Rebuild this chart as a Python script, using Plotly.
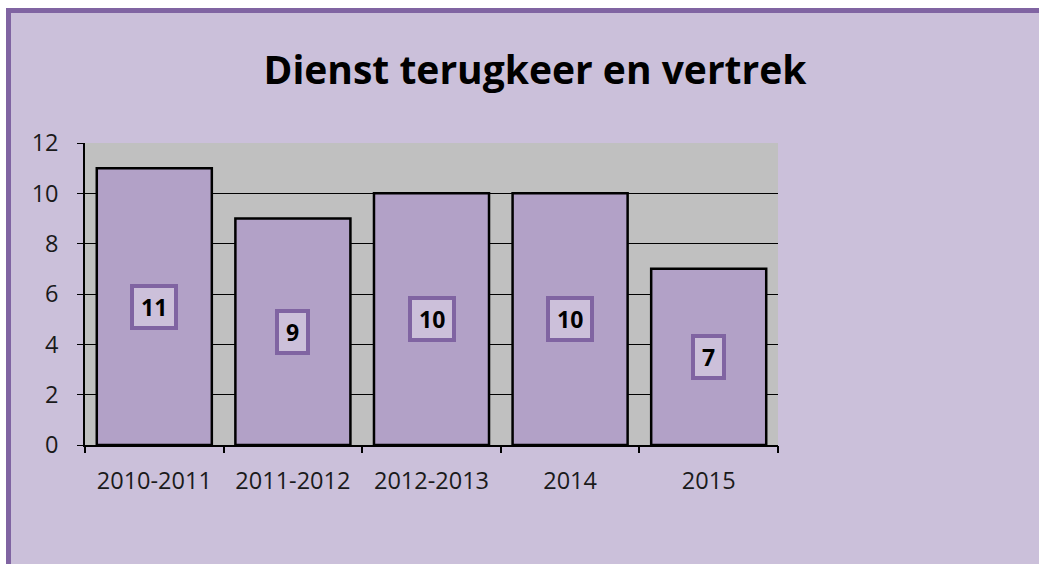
import plotly.graph_objects as go

categories = ["2010-2011", "2011-2012", "2012-2013", "2014", "2015"]
values = [11, 9, 10, 10, 7]
y_ticks = [0, 2, 4, 6, 8, 10, 12]

W, H = 1039, 564
L, R, T, B = 85, 261, 143, 119
pw, ph = W - L - R, H - T - B

def px_x(p):
    return (p - L) / pw

def px_y(p):
    return (H - B - p) / ph

fig = go.Figure()
fig.add_trace(go.Bar(
    x=list(range(len(categories))), y=values,
    marker=dict(color="#B2A1C7", line=dict(color="#000000", width=2.5)),
    hovertext=categories, hoverinfo="text+y",
))

for i, v in enumerate(values):
    fig.add_annotation(
        x=i, y=v / 2, xref="x", yref="y", text="<b>%d</b>" % v,
        showarrow=False, font=dict(family="Open Sans", size=23, color="#000000"),
        bgcolor="#CCC0DA", bordercolor="#8064A2", borderwidth=4, borderpad=7,
        height=24,
    )

# outer frame: white margin strips and purple border (left and top)
fig.add_shape(type="rect", xref="paper", yref="paper",
              x0=px_x(0), x1=px_x(W), y0=px_y(8), y1=px_y(0),
              fillcolor="#FFFFFF", line=dict(width=0))
fig.add_shape(type="rect", xref="paper", yref="paper",
              x0=px_x(0), x1=px_x(6), y0=px_y(H), y1=px_y(0),
              fillcolor="#FFFFFF", line=dict(width=0))
fig.add_shape(type="line", xref="paper", yref="paper",
              x0=px_x(8.5), x1=px_x(8.5), y0=px_y(H), y1=px_y(8),
              line=dict(color="#8064A2", width=5))
fig.add_shape(type="line", xref="paper", yref="paper",
              x0=px_x(6), x1=px_x(W), y0=px_y(10.5), y1=px_y(10.5),
              line=dict(color="#8064A2", width=5))

fig.update_layout(
    width=W, height=H,
    margin=dict(l=L, r=R, t=T, b=B, pad=0),
    paper_bgcolor="#CBC0DA",
    plot_bgcolor="#C0C0C0",
    bargap=0.17,
    showlegend=False,
    title=dict(text="<b>Dienst terugkeer en vertrek</b>", x=535 / W, xanchor="center",
               y=1 - 70 / H, yanchor="middle",
               font=dict(family="Open Sans", size=39, color="#000000")),
    font=dict(family="Open Sans", size=23, color="#1A1A1A"),
)
fig.update_xaxes(
    type="linear", range=[-0.5, len(categories) - 0.5],
    tickvals=list(range(len(categories))), ticktext=categories,
    showline=True, linecolor="#000000", linewidth=1.5,
    ticks="", showgrid=False, tickfont=dict(size=23.5), tickangle=0,
    ticklabelstandoff=14,
)
# tick marks at category boundaries via a secondary overlaying axis
fig.update_layout(xaxis2=dict(
    overlaying="x", anchor="y", side="bottom", range=[-0.5, len(categories) - 0.5],
    tickvals=[i - 0.5 for i in range(len(categories) + 1)], ticktext=[""] * (len(categories) + 1),
    ticks="outside", ticklen=7, tickcolor="#000000", tickwidth=1.5,
    showgrid=False, showline=False, zeroline=False,
))
fig.add_trace(go.Scatter(x=[None], y=[None], xaxis="x2", yaxis="y", showlegend=False,
                         hoverinfo="skip"))
fig.update_yaxes(
    range=[0, 12], tickvals=y_ticks, showline=True, linecolor="#000000", linewidth=1.5,
    ticks="outside", ticklen=6, tickcolor="#000000",
    showgrid=True, gridcolor="#000000", gridwidth=1, zeroline=False,
    tickfont=dict(size=23.5), ticklabelstandoff=14,
)

fig.write_html("out.html",
               post_script="document.body.style.margin='0px';document.body.style.overflow='hidden';",
               config={"displayModeBar": False})
